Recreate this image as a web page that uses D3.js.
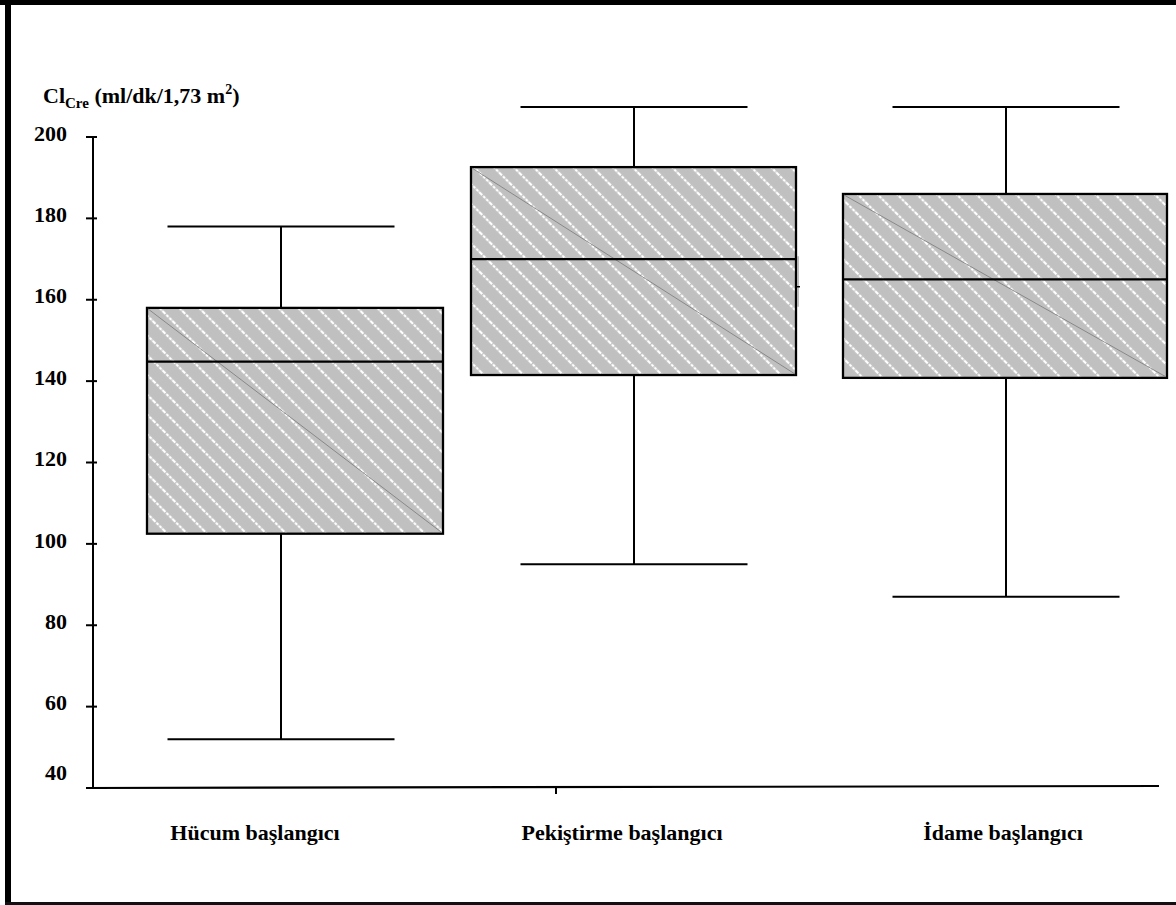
<!DOCTYPE html>
<html>
<head>
<meta charset="utf-8">
<script src="https://cdn.jsdelivr.net/npm/d3@7"></script>
<style>
  html, body { margin: 0; padding: 0; background: #fff; }
  svg { display: block; }
  text { font-family: "Liberation Serif", "Times New Roman", serif; font-weight: bold; fill: #000; }
</style>
</head>
<body>
<svg id="chart" width="1176" height="905"></svg>
<script>
// ---- data ----
const categories = ["Hücum başlangıcı", "Pekiştirme başlangıcı", "İdame başlangıcı"];
const whiskerLow  = [52, 95, 87];
const q1          = [102.5, 141.5, 140.8];
const median      = [144.8, 170, 165];
const q3          = [158, 192.6, 186];
const whiskerHigh = [178, 207.4, 207.4];
const yTicks      = [40, 60, 80, 100, 120, 140, 160, 180, 200];
const yTitleMain  = "Cl";
const yTitleSub   = "Cre";
const yTitleRest  = " (ml/dk/1,73 m";
const yTitleSup   = "2";

// ---- layout ----
const svg = d3.select("#chart");
const W = 1176, H = 905;

const y = d3.scaleLinear().domain([40, 200]).range([788, 137]);
const xCenter = d3.scaleOrdinal().domain(categories).range([281, 634, 1006]);
const boxLeft = d3.scaleOrdinal().domain(categories).range([147, 471, 843]);
const boxRight = d3.scaleOrdinal().domain(categories).range([443, 796, 1167]);
const labelX = d3.scaleOrdinal().domain(categories).range([255, 622, 1003]);
const capHalf = 113.5;

// frame
svg.append("rect").attr("x", 0).attr("y", 0).attr("width", W).attr("height", 5).attr("fill", "#000");
svg.append("rect").attr("x", 5).attr("y", 0).attr("width", 6).attr("height", H).attr("fill", "#000");
svg.append("rect").attr("x", 5).attr("y", 902).attr("width", W - 5).attr("height", 3).attr("fill", "#111");

// hatch pattern
const defs = svg.append("defs");
const pat = defs.append("pattern")
  .attr("id", "hatch")
  .attr("patternUnits", "userSpaceOnUse")
  .attr("width", 14).attr("height", 14)
  .attr("patternTransform", "rotate(-45)");
pat.append("rect").attr("width", 14).attr("height", 14).attr("fill", "#c0c0c0");
pat.append("line").attr("x1", 7).attr("y1", 0).attr("x2", 7).attr("y2", 14)
  .attr("stroke", "#ffffff").attr("stroke-width", 2.2).attr("stroke-dasharray", "3,1.2");

// y axis
const yAxisG = svg.append("g");
yAxisG.append("line").attr("x1", 93).attr("x2", 93).attr("y1", y(200)).attr("y2", y(40))
  .attr("stroke", "#000").attr("stroke-width", 2);
yAxisG.selectAll("line.tick").data(yTicks).join("line")
  .attr("class", "tick")
  .attr("x1", 86).attr("x2", 97)
  .attr("y1", d => y(d)).attr("y2", d => y(d))
  .attr("stroke", "#000").attr("stroke-width", 2);
yAxisG.selectAll("text.tl").data(yTicks).join("text")
  .attr("class", "tl")
  .attr("x", 67)
  .attr("y", d => y(d) - (d === 40 ? 16 : 4))
  .attr("dy", "0.35em")
  .attr("text-anchor", "end")
  .attr("font-size", 22)
  .text(d => d);

// y title
const title = svg.append("text").attr("x", 43).attr("y", 103).attr("font-size", 22);
title.append("tspan").text(yTitleMain);
title.append("tspan").attr("font-size", 15).attr("dy", 5).text(yTitleSub);
title.append("tspan").attr("dy", -5).text(yTitleRest);
title.append("tspan").attr("font-size", 14).attr("dy", -9).text(yTitleSup);
title.append("tspan").attr("dy", 9).text(")");

// x axis
svg.append("line").attr("x1", 86).attr("x2", 1159).attr("y1", 788).attr("y2", 786)
  .attr("stroke", "#000").attr("stroke-width", 2.2);
svg.append("line").attr("x1", 556).attr("x2", 556).attr("y1", 787).attr("y2", 794)
  .attr("stroke", "#000").attr("stroke-width", 2);

svg.selectAll("text.cat").data(categories).join("text")
  .attr("class", "cat")
  .attr("x", d => labelX(d))
  .attr("y", 840)
  .attr("text-anchor", "middle")
  .attr("font-size", 22)
  .text(d => d);

// boxes
const data = categories.map((c, i) => ({
  c, lo: whiskerLow[i], q1: q1[i], med: median[i], q3: q3[i], hi: whiskerHigh[i]
}));

const g = svg.selectAll("g.box").data(data).join("g").attr("class", "box");

g.append("line")
  .attr("x1", d => xCenter(d.c)).attr("x2", d => xCenter(d.c))
  .attr("y1", d => y(d.hi)).attr("y2", d => y(d.q3))
  .attr("stroke", "#000").attr("stroke-width", 2);
g.append("line")
  .attr("x1", d => xCenter(d.c)).attr("x2", d => xCenter(d.c))
  .attr("y1", d => y(d.q1)).attr("y2", d => y(d.lo))
  .attr("stroke", "#000").attr("stroke-width", 2);
g.append("line")
  .attr("x1", d => xCenter(d.c) - capHalf).attr("x2", d => xCenter(d.c) + capHalf)
  .attr("y1", d => y(d.hi)).attr("y2", d => y(d.hi))
  .attr("stroke", "#000").attr("stroke-width", 2);
g.append("line")
  .attr("x1", d => xCenter(d.c) - capHalf).attr("x2", d => xCenter(d.c) + capHalf)
  .attr("y1", d => y(d.lo)).attr("y2", d => y(d.lo))
  .attr("stroke", "#000").attr("stroke-width", 2);

g.append("rect")
  .attr("x", d => boxLeft(d.c))
  .attr("y", d => y(d.q3))
  .attr("width", d => boxRight(d.c) - boxLeft(d.c))
  .attr("height", d => y(d.q1) - y(d.q3))
  .attr("fill", "url(#hatch)")
  .attr("stroke", "#000").attr("stroke-width", 2.3);
g.append("line")
  .attr("x1", d => boxLeft(d.c) + 1).attr("y1", d => y(d.q3) + 1)
  .attr("x2", d => boxRight(d.c) - 1).attr("y2", d => y(d.q1) - 1)
  .attr("stroke", "#7a7a7a").attr("stroke-width", 0.8);
g.append("line")
  .attr("x1", d => boxLeft(d.c)).attr("x2", d => boxRight(d.c))
  .attr("y1", d => y(d.med)).attr("y2", d => y(d.med))
  .attr("stroke", "#000").attr("stroke-width", 2.2);

// small mark beside second box
const c2 = categories[1];
svg.append("line").attr("x1", boxRight(c2) + 2).attr("x2", boxRight(c2) + 2)
  .attr("y1", y(170.7)).attr("y2", y(158.3)).attr("stroke", "#aaa").attr("stroke-width", 1.5);
svg.append("line").attr("x1", boxRight(c2)).attr("x2", boxRight(c2) + 4)
  .attr("y1", y(163.2)).attr("y2", y(163.2)).attr("stroke", "#000").attr("stroke-width", 1.5);
</script>
</body>
</html>
